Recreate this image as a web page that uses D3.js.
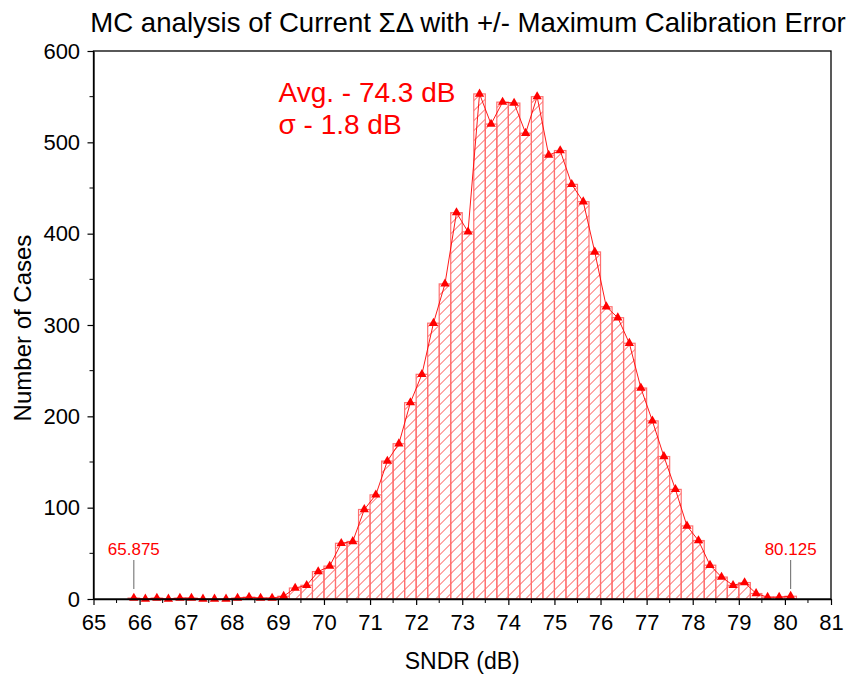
<!DOCTYPE html>
<html>
<head>
<meta charset="utf-8">
<script src="https://cdn.jsdelivr.net/npm/d3@7"></script>
<style>
  body { margin: 0; background: #fff; }
  text { font-family: Arial, "Liberation Sans", sans-serif; }
</style>
</head>
<body>
<div id="chart"></div>
<script>
// bin centres (dB) and counts
const binCenters = [65.875, 66.125, 66.375, 66.625, 66.875, 67.125, 67.375, 67.625, 67.875, 68.125,
  68.375, 68.625, 68.875, 69.125, 69.375, 69.625, 69.875, 70.125, 70.375, 70.625,
  70.875, 71.125, 71.375, 71.625, 71.875, 72.125, 72.375, 72.625, 72.875, 73.125,
  73.375, 73.625, 73.875, 74.125, 74.375, 74.625, 74.875, 75.125, 75.375, 75.625,
  75.875, 76.125, 76.375, 76.625, 76.875, 77.125, 77.375, 77.625, 77.875, 78.125,
  78.375, 78.625, 78.875, 79.125, 79.375, 79.625, 79.875, 80.125];
const counts = [1, 0, 1, 0, 1, 1, 0, 0, 0, 1,
  2, 1, 1, 3, 12, 15, 30, 36, 61, 63,
  98, 114, 151, 170, 215, 246, 302, 345, 423, 402,
  553, 520, 544, 543, 510, 550, 486, 491, 454, 435,
  380, 320, 308, 280, 231, 195, 156, 120, 80, 64,
  37, 24, 15, 18, 6, 2, 2, 3];
const binWidth = 0.25;
const xTicks = [65, 66, 67, 68, 69, 70, 71, 72, 73, 74, 75, 76, 77, 78, 79, 80, 81];
const yTicks = [0, 100, 200, 300, 400, 500, 600];
const edgeLabels = [65.875, 80.125];
const statsText = ["Avg. - 74.3 dB", "σ - 1.8 dB"];

const W = 858, H = 677;
const margin = { top: 51, right: 27, bottom: 78, left: 93.5 };
const width = W - margin.left - margin.right;
const height = H - margin.top - margin.bottom;

const data = binCenters.map((c, i) => ({ c: c, n: counts[i] }));

const svgRoot = d3.select("#chart").append("svg")
  .attr("width", W).attr("height", H);

// hatch pattern
const defs = svgRoot.append("defs");
const pat = defs.append("pattern")
  .attr("id", "hatch")
  .attr("patternUnits", "userSpaceOnUse")
  .attr("width", 10).attr("height", 10);
pat.append("path")
  .attr("d", "M-1,1 l2,-2 M0,10 l10,-10 M9,11 l2,-2")
  .attr("stroke", "#ff2020").attr("stroke-width", 0.8);

const svg = svgRoot.append("g")
  .attr("transform", `translate(${margin.left},${margin.top})`);

const x = d3.scaleLinear().domain([65, 81]).range([0, width]);
const y = d3.scaleLinear().domain([0, 600]).range([height, 0]);

// bars
svg.append("g")
  .selectAll("rect")
  .data(data)
  .enter()
  .append("rect")
  .attr("x", d => x(d.c - binWidth / 2))
  .attr("width", d => x(d.c + binWidth / 2) - x(d.c - binWidth / 2))
  .attr("y", d => y(d.n))
  .attr("height", d => y(0) - y(d.n))
  .attr("fill", "url(#hatch)")
  .attr("stroke", "#ff7070")
  .attr("stroke-width", 1.2);

// connecting line
svg.append("path")
  .datum(data)
  .attr("fill", "none")
  .attr("stroke", "#ff0000")
  .attr("stroke-width", 0.9)
  .attr("d", d3.line().x(d => x(d.c)).y(d => y(d.n)));

// triangle markers
svg.append("g")
  .selectAll("path")
  .data(data)
  .enter()
  .append("path")
  .attr("transform", d => `translate(${x(d.c)},${y(d.n)})`)
  .attr("d", d3.symbol().type(d3.symbolTriangle).size(38))
  .attr("fill", "#ff0000");

// frame (top, right)
svg.append("rect")
  .attr("x", 0).attr("y", 0)
  .attr("width", width).attr("height", height)
  .attr("fill", "none").attr("stroke", "#000").attr("stroke-width", 1.3);

// axes
const xAxis = svg.append("g")
  .attr("transform", `translate(0,${height})`)
  .call(d3.axisBottom(x).tickValues(xTicks).tickFormat(d3.format("d")).tickSize(6).tickSizeOuter(0));
xAxis.append("g")
  .selectAll("line")
  .data(xTicks.slice(0, -1).map(t => t + 0.5))
  .enter().append("line")
  .attr("x1", d => x(d)).attr("x2", d => x(d))
  .attr("y1", 0).attr("y2", 4)
  .attr("stroke", "#000");

const yAxis = svg.append("g")
  .call(d3.axisLeft(y).tickValues(yTicks).tickSize(6).tickSizeOuter(0));
yAxis.append("g")
  .selectAll("line")
  .data(yTicks.slice(0, -1).map(t => t + 50))
  .enter().append("line")
  .attr("y1", d => y(d)).attr("y2", d => y(d))
  .attr("x1", 0).attr("x2", -4)
  .attr("stroke", "#000");

svg.selectAll(".domain").attr("stroke-width", 1.3);
svg.selectAll(".tick line").attr("stroke-width", 1.2);
xAxis.selectAll(".tick text").attr("font-size", 22).attr("dy", "1.0em")
  .style("font-family", "Arial, 'Liberation Sans', sans-serif");
yAxis.selectAll(".tick text").attr("font-size", 22).attr("dx", "-0.2em")
  .style("font-family", "Arial, 'Liberation Sans', sans-serif");

// edge labels
const edge = svg.append("g");
edgeLabels.forEach(v => {
  edge.append("line")
    .attr("x1", x(v)).attr("x2", x(v))
    .attr("y1", height - 39).attr("y2", height - 10)
    .attr("stroke", "#666").attr("stroke-width", 1);
  edge.append("text")
    .attr("x", x(v)).attr("y", height - 44)
    .attr("text-anchor", "middle")
    .attr("font-size", 17)
    .attr("fill", "#ff0000")
    .text(v);
});

// stats
svg.append("g").selectAll("text")
  .data(statsText)
  .enter().append("text")
  .attr("x", 185)
  .attr("y", (d, i) => 51 + i * 32)
  .attr("font-size", 28)
  .attr("fill", "#ff0000")
  .text(d => d);

// titles
svgRoot.append("text")
  .attr("x", 468).attr("y", 32)
  .attr("text-anchor", "middle")
  .attr("font-size", 27.6)
  .text("MC analysis of Current ΣΔ with +/- Maximum Calibration Error");

svgRoot.append("text")
  .attr("x", margin.left + width / 2).attr("y", 669)
  .attr("text-anchor", "middle")
  .attr("font-size", 23)
  .text("SNDR (dB)");

svgRoot.append("text")
  .attr("transform", `translate(31,${margin.top + height / 2 + 3}) rotate(-90)`)
  .attr("text-anchor", "middle")
  .attr("font-size", 24)
  .text("Number of Cases");
</script>
</body>
</html>
